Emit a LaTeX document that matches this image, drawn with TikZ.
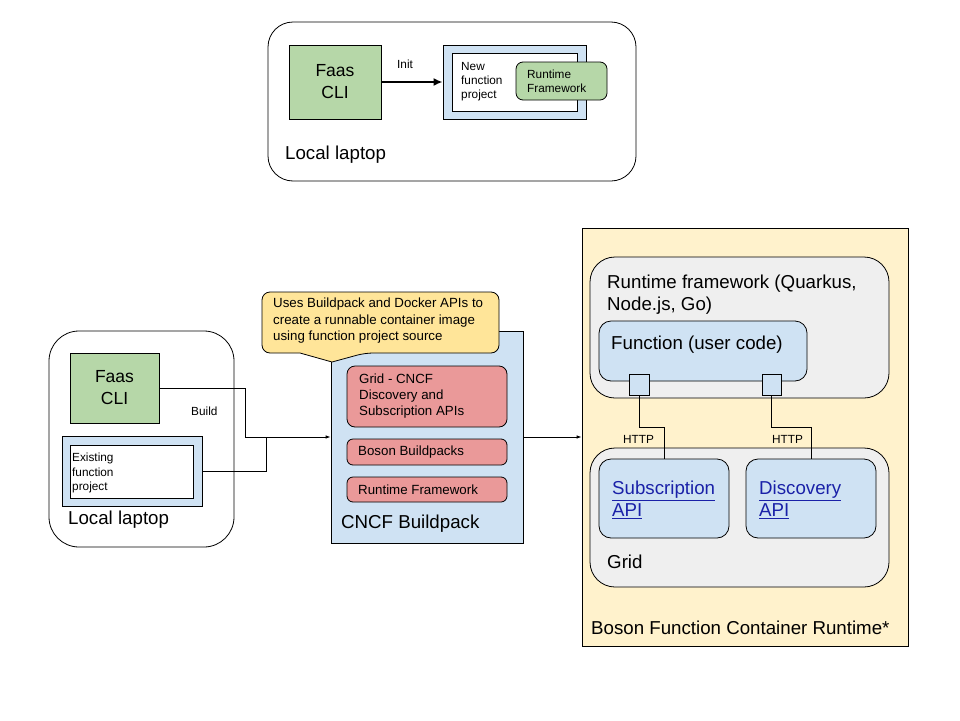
\documentclass[tikz,border=0pt]{standalone}
\usepackage{fontspec}
\setmainfont{Liberation Sans}
\usetikzlibrary{arrows.meta}
\definecolor{gfill}{HTML}{B6D7A8}
\definecolor{bfill}{HTML}{CFE2F3}
\definecolor{rfill}{HTML}{EA9999}
\definecolor{yfill}{HTML}{FFE599}
\definecolor{lyfill}{HTML}{FFF2CC}
\definecolor{grfill}{HTML}{EFEFEF}
\definecolor{linkc}{HTML}{1A21A8}
\tikzset{
  box/.style={draw=black, line width=0.8pt},
  txt/.style={inner sep=0pt, anchor=west, align=left},
  conn/.style={draw=black, line width=0.8pt},
  big/.style={font=\fontsize{18.7}{22}\selectfont},
  small/.style={font=\fontsize{11.8}{14}\selectfont},
  mid/.style={font=\fontsize{13.3}{16.3}\selectfont},
  link/.style={txt, text=linkc, big},
}
\newcommand{\ul}[1]{\underline{#1}}
\begin{document}
\begin{tikzpicture}[x=1pt,y=-1pt]
\useasboundingbox (0,0) rectangle (960,720);
% ---------- top laptop
\draw[box, rounded corners=25] (268,22) rectangle (636,181);
\node[txt, big] (ll1) at (285,155) {Local laptop};
\node[box, fill=gfill, minimum width=92pt, minimum height=74pt, align=center, font=\fontsize{17.5}{22}\selectfont] (cli1) at (335,82) {Faas\\CLI};
\node[box, fill=bfill, minimum width=143pt, minimum height=74pt] (proj1) at (514.5,82) {};
\node[box, fill=white, minimum width=125pt, minimum height=58pt] (proj1in) at (514.5,82) {};
\node[txt, small] (proj1t) at (461,82) {New\\function\\project};
\node[box, fill=gfill, rounded corners=7, minimum width=91pt, minimum height=38pt] (rf1) at (561.5,81) {};
\node[txt, small] (rf1t) at (527,81) {Runtime\\Framework};
\draw[line width=2pt, -{Latex[length=9pt,width=8pt]}] (cli1.east) -- (proj1.west);
\node[txt, small] (init) at (397,64) {Init};
% ---------- bottom laptop
\draw[box, rounded corners=30] (49,331) rectangle (234,547);
\node[txt, big] (ll2) at (68,520) {Local laptop};
\node[box, fill=gfill, minimum width=89pt, minimum height=70pt, align=center, font=\fontsize{17.5}{22}\selectfont] (cli2) at (114.5,388) {Faas\\CLI};
\node[box, fill=bfill, minimum width=140pt, minimum height=70pt] (proj2) at (132,471) {};
\node[box, fill=white, minimum width=123pt, minimum height=53pt] (proj2in) at (131.5,471.5) {};
\node[txt, font=\fontsize{11.8}{14.5}\selectfont] (proj2t) at (72,473) {Existing\\function\\project};
\node[txt, small] (build) at (191,411) {Build};
% ---------- CNCF buildpack
\node[box, fill=bfill, minimum width=192pt, minimum height=212pt] (cncf) at (427,437) {};
\node[txt, big] (cncft) at (341,524) {CNCF Buildpack};
\draw[box, fill=yfill] (262,300) [rounded corners=8] -- (262,292) -- (499,292) -- (499,353) -- (365,353) [sharp corners] -- (332,362) -- (300,353) [rounded corners=8] -- (262,353) -- (262,300);
\node[txt, font=\fontsize{13.3}{16.5}\selectfont] (note) at (273,321) {Uses Buildpack and Docker APIs to\\create a runnable container image\\using function project source};
\node[box, fill=rfill, rounded corners=8, minimum width=160pt, minimum height=61pt] (grid1) at (427,396.5) {};
\node[txt, font=\fontsize{13.3}{16}\selectfont] (grid1t) at (359,396) {Grid - CNCF\\Discovery and\\Subscription APIs};
\node[box, fill=rfill, rounded corners=6, minimum width=160pt, minimum height=26pt] (bbp) at (427,452) {};
\node[txt, mid] (bbpt) at (358,452) {Boson Buildpacks};
\node[box, fill=rfill, rounded corners=6, minimum width=160pt, minimum height=25pt] (rf2) at (427,489.5) {};
\node[txt, mid] (rf2t) at (358,490) {Runtime Framework};
% build connectors
\coordinate (j1) at (245,388);
\coordinate (j2) at (245,437);
\coordinate (j3) at (266,471);
\coordinate (j4) at (266,437);
\draw[conn, -{Latex[length=5pt,width=3.5pt]}] (cli2.east |- j1) -- (j1) -- (j2) -- (cncf.west |- j2);
\draw[conn] (proj2.east) -- (j3) -- (j4);
% ---------- runtime
\node[box, fill=lyfill, minimum width=326pt, minimum height=418pt] (rt) at (745,437) {};
\draw[conn, -{Latex[length=5pt,width=3.5pt]}] (cncf.east |- j2) -- (rt.west |- j2);
\node[txt, big] (rtt) at (591,628) {Boson Function Container Runtime*};
\node[box, fill=grfill, rounded corners=25, minimum width=299pt, minimum height=141pt] (rfw) at (739.5,327.5) {};
\node[txt, big] (rfwt) at (607,295) {Runtime framework (Quarkus,\\Node.js, Go)};
\node[box, fill=bfill, rounded corners=12, minimum width=208pt, minimum height=60pt] (func) at (703,351) {};
\node[txt, big] (funct) at (611,345) {Function (user code)};
\node[box, fill=bfill, minimum width=20pt, minimum height=21pt] (p1) at (639,384.5) {};
\node[box, fill=bfill, minimum width=19pt, minimum height=21pt] (p2) at (771.5,384.5) {};
\node[box, fill=grfill, rounded corners=25, minimum width=299pt, minimum height=139pt] (gridb) at (739.5,517.5) {};
\node[txt, big] (gridt) at (607,562) {Grid};
\node[box, fill=bfill, rounded corners=12, minimum width=130pt, minimum height=79pt] (sub) at (664,498.5) {};
\node[link] (subt) at (612,500) {\ul{Subscription}\\\ul{API}};
\node[box, fill=bfill, rounded corners=12, minimum width=130pt, minimum height=79pt] (disc) at (811,498.5) {};
\node[link] (disct) at (759,500) {\ul{Discovery}\\\ul{API}};
\coordinate (h1) at (639,427);
\coordinate (h2) at (773,427);
\draw[conn] (p1.south) -- (h1) -- (h1 -| sub.north) -- (sub.north);
\draw[conn] (p2.south) -- (p2.south |- h2) -- (h2 -| disc.north) -- (disc.north);
\node[txt, small] (http1) at (623,439) {HTTP};
\node[txt, small] (http2) at (772,439) {HTTP};
\end{tikzpicture}
\end{document}
